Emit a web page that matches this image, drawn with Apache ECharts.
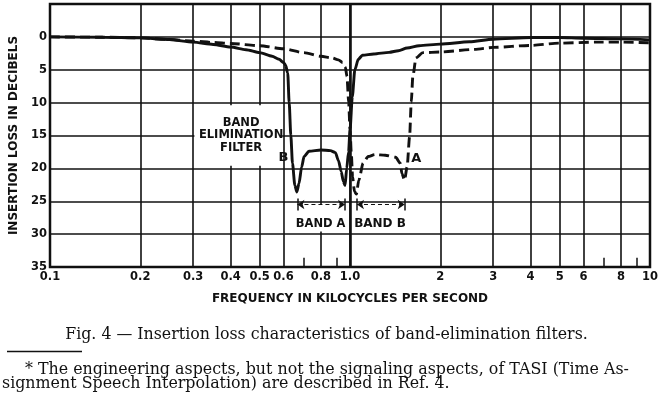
<!DOCTYPE html>
<html><head><meta charset="utf-8">
<script src="https://cdn.jsdelivr.net/npm/echarts@6/dist/echarts.min.js"></script>
<style>html,body{margin:0;padding:0;background:#fff}#c{width:661px;height:395px}</style>
</head><body><div id="c"></div><script>
// ---- data ----
const freqB = [0.1,0.15,0.2,0.25,0.3,0.35,0.4,0.45,0.5,0.55,0.58,0.6,0.61,0.62,0.627,0.635,0.643,0.655,0.665,0.676,0.69,0.703,0.73,0.8,0.86,0.894,0.915,0.935,0.95,0.963,0.975,0.989,1.0,1.018,1.038,1.066,1.1,1.2,1.35,1.45,1.55,1.7,2.0,2.5,3.0,4.0,5.0,6.0,8.0,10];
const lossB = [0,0.05,0.15,0.4,0.8,1.15,1.55,1.95,2.4,2.95,3.4,3.9,4.3,5.5,10,15,19.2,22.6,23.6,22.3,19.8,18.2,17.4,17.2,17.3,17.6,18.8,20.5,22.0,22.6,20.0,17.5,14.2,9.1,5.0,3.4,2.8,2.6,2.35,2.1,1.7,1.35,1.1,0.75,0.35,0.1,0.1,0.2,0.3,0.45];
const freqA = [0.1,0.15,0.2,0.25,0.3,0.35,0.4,0.5,0.6,0.7,0.8,0.87,0.915,0.945,0.965,0.977,0.99,1.0,1.01,1.02,1.035,1.05,1.07,1.106,1.15,1.21,1.31,1.42,1.47,1.49,1.52,1.55,1.58,1.6,1.62,1.66,1.75,2.0,2.6,3.0,4.0,5.0,6.6,8.0,10];
const lossA = [0,0.05,0.15,0.4,0.65,0.85,1.0,1.35,1.8,2.4,2.95,3.2,3.5,3.9,4.6,6.0,10,14,17.7,21.3,23.5,23.9,21.8,19.2,18.2,17.9,18.0,18.3,19.2,20.8,21.8,19.8,15.2,10,6,3.2,2.4,2.3,1.9,1.6,1.3,0.95,0.8,0.8,0.9];
const xTicks = [0.1,0.2,0.3,0.4,0.5,0.6,0.8,1.0,2,3,4,5,6,8,10];
const xTickLabels = ['0.1','0.2','0.3','0.4','0.5','0.6','0.8','1.0','2','3','4','5','6','8','10'];
const minorTicks = [0.7,0.9,7,9];
const yTickLabels = ['0','5','10','15','20','25','30','35'];
const bandA = [0.668,0.963];
const bandB = [1.055,1.522];

const SANS = '"DejaVu Sans", sans-serif';
const SERIF = '"DejaVu Serif", serif';
const INK = '#111';

function fitSize(text, family, weight, target) {
  const cv = document.createElement('canvas').getContext('2d');
  cv.font = weight + ' 100px ' + family;
  return 100 * target / cv.measureText(text).width;
}
const caption = 'Fig. 4 \u2014 Insertion loss characteristics of band-elimination filters.';
const foot1 = '* The engineering aspects, but not the signaling aspects, of TASI (Time As-';
const foot2 = 'signment Speech Interpolation) are described in Ref. 4.';
const capSize = fitSize(caption, SERIF, 'normal', 523);
const footSize = fitSize(foot2, SERIF, 'normal', 448);

const zip = (xs, ys) => xs.map((x, i) => [x, ys[i]]);
const lbl = {fontFamily: SANS, fontWeight: 'bold', fontSize: 11.5, color: INK};

const chart = echarts.init(document.getElementById('c'), null, {renderer: 'canvas'});
chart.setOption({
  animation: false,
  backgroundColor: '#fff',
  grid: {left: 45, right: 10, top: 4, bottom: 128, show: true, borderColor: INK, borderWidth: 2.5, containLabel: false},
  xAxis: {
    type: 'log', logBase: 10, min: 0.1, max: 10,
    name: 'FREQUENCY IN KILOCYCLES PER SECOND', nameLocation: 'middle', nameGap: 26,
    nameTextStyle: Object.assign({}, lbl, {fontSize: 12}),
    axisLine: {show: false},
    axisTick: {show: false, customValues: xTicks},
    axisLabel: Object.assign({}, lbl, {margin: 4, customValues: xTicks,
      formatter: v => { const i = xTicks.findIndex(t => Math.abs(t - v) < 1e-6); return i >= 0 ? xTickLabels[i] : ''; }}),
    splitLine: {show: true, lineStyle: {color: INK, width: 1.6}},
    minorSplitLine: {show: false}
  },
  yAxis: {
    type: 'value', inverse: true, min: -5, max: 35, interval: 5,
    name: 'INSERTION LOSS IN DECIBELS', nameLocation: 'middle', nameGap: 30,
    nameTextStyle: Object.assign({}, lbl, {fontSize: 12}),
    axisLine: {show: false}, axisTick: {show: false},
    axisLabel: Object.assign({}, lbl, {margin: 3, formatter: v => v < 0 ? '' : yTickLabels[v / 5]}),
    splitLine: {show: true, lineStyle: {color: INK, width: 1.6}}
  },
  series: [
    {
      type: 'line', name: 'boxes', data: [], z: 1, silent: true,
      markArea: {silent: true, itemStyle: {color: '#fff'}, label: {show: false},
        data: [
          [{coord: [0.303, 10.4]}, {coord: [0.594, 19.6]}],
          [{coord: [0.607, 25.4]}, {coord: [0.99, 29.6]}],
          [{coord: [1.01, 25.4]}, {coord: [1.95, 29.6]}]
        ]}
    },
    {
      type: 'line', name: 'Filter B', data: zip(freqB, lossB), z: 3,
      symbol: 'none', smooth: 0.25, smoothMonotone: 'x',
      lineStyle: {color: INK, width: 2.9}
    },
    {
      type: 'line', name: 'Filter A', data: zip(freqA, lossA), z: 3,
      symbol: 'none', smooth: 0.25, smoothMonotone: 'x',
      lineStyle: {color: INK, width: 2.9, type: [10, 5]}
    },
    {
      type: 'line', name: 'marks', data: [], z: 4, silent: true,
      markLine: {
        silent: true, symbol: 'none', label: {show: false}, animation: false,
        lineStyle: {color: INK, width: 1.5, type: 'solid'},
        data: [
          {xAxis: 1.0, lineStyle: {width: 2.6}},
          ...minorTicks.map(m => [{coord: [m, 35]}, {coord: [m, 33.6]}]),
          [{coord: [bandA[0], 25.5], symbol: 'arrow', lineStyle: {type: [4, 3], width: 1.2}}, {coord: [bandA[1], 25.5], symbol: 'arrow'}],
          [{coord: [bandB[0], 25.5], symbol: 'arrow', lineStyle: {type: [4, 3], width: 1.2}}, {coord: [bandB[1], 25.5], symbol: 'arrow'}],
          ...[bandA[0], bandA[1], bandB[0], bandB[1]].map(f => [{coord: [f, 24.6]}, {coord: [f, 26.4]}])
        ],
        symbolSize: 7
      },
      markPoint: {
        silent: true, symbol: 'circle', symbolSize: 1, itemStyle: {color: 'rgba(0,0,0,0)'},
        label: Object.assign({}, lbl, {show: true, position: 'inside', formatter: p => p.name, lineHeight: 12.5}),
        data: [
          {name: 'BAND\nELIMINATION\nFILTER', coord: [0.4335, 15]},
          {name: 'B', coord: [0.6, 18.4], label: {fontSize: 13}},
          {name: 'A', coord: [1.664, 18.5], label: {fontSize: 13}},
          {name: 'BAND A', coord: [0.798, 28.4]},
          {name: 'BAND B', coord: [1.259, 28.4], label: {fontSize: 12}}
        ]
      }
    }
  ],
  graphic: [
    {type: 'text', x: 326.5, y: 335, style: {text: caption, fill: INK, font: capSize.toFixed(2) + 'px ' + SERIF, align: 'center', verticalAlign: 'middle'}},
    {type: 'line', shape: {x1: 7, y1: 351.5, x2: 82, y2: 351.5}, style: {stroke: INK, lineWidth: 1.5}},
    {type: 'text', x: 25, y: 369.5, style: {text: foot1, fill: INK, font: footSize.toFixed(2) + 'px ' + SERIF, align: 'left', verticalAlign: 'middle'}},
    {type: 'text', x: 2, y: 383.5, style: {text: foot2, fill: INK, font: footSize.toFixed(2) + 'px ' + SERIF, align: 'left', verticalAlign: 'middle'}}
  ]
});
</script></body></html>
